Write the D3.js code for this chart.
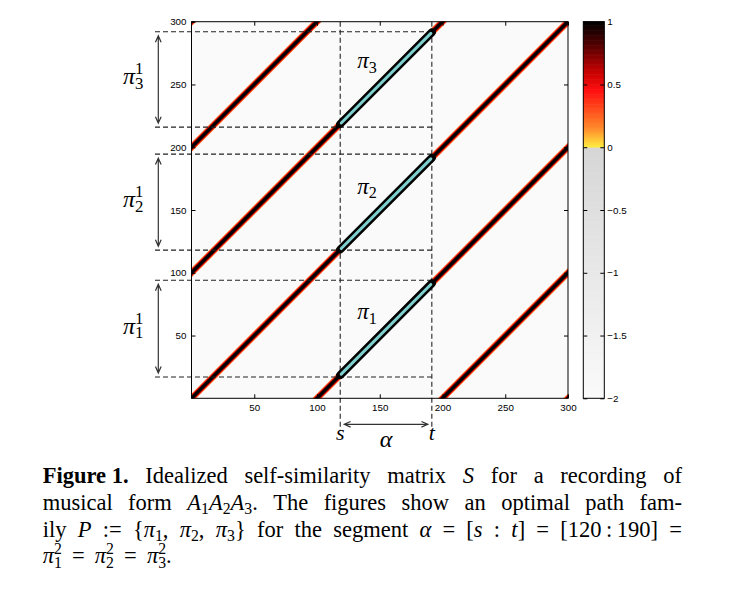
<!DOCTYPE html>
<html>
<head>
<meta charset="utf-8">
<script src="https://cdn.jsdelivr.net/npm/d3@7"></script>
<style>
  body { margin: 0; background: #fff; }
  svg { display: block; }
</style>
</head>
<body>
<div class="canvas"></div>
<script>
///////////////////////////////////////////////
////////// values /////////
///////////////////////////////////////////////
const axisTicks = [50, 100, 150, 200, 250, 300];
// the matrix has stripes along y = x + offset (blocks of 100 frames)
const blockOffsets = [-300, -200, -100, 0, 100, 200, 300];
// segment alpha = [s : t]
const segStart = 118.5;
const segEnd = 191.5;
// pi1, pi2, pi3 sit on these diagonals
const pathOffsets = [-100, 0, 100];
const pathNames = ['1', '2', '3'];
// projections of each path on the vertical axis (dashed lines)
const projLow = [17, 118, 216];
const projHigh = [94, 194.5, 292];
// colorbar
const cbTicks = [1, 0.5, 0, -0.5, -1, -1.5, -2];
const cbTickLabels = ['1', '0.5', '0', '\u22120.5', '\u22121', '\u22121.5', '\u22122'];
// caption, ** bold, _ italic, ~ subscript, ^ superscript
const captionLines = [
    '**Figure\u00a01.** Idealized self-similarity matrix _S_ for a recording of',
    'musical form _A_~1~_A_~2~_A_~3~. The figures show an optimal path fam-',
    'ily _P_ := {_\u03c0_~1~, _\u03c0_~2~, _\u03c0_~3~} for the segment _\u03b1_ = [_s_ : _t_] = [120\u2009:\u2009190] =',
    '_\u03c0_~1~^2^ = _\u03c0_~2~^2^ = _\u03c0_~3~^2^.'
];

// layout
const W = 729, H = 603;
const box = { left: 191.5, top: 21.7, right: 568, bottom: 398.3 };
const cb = { left: 583.3, right: 604.3 };

const svg = d3.select('.canvas')
    .append('svg')
    .attr('width', W)
    .attr('height', H)
    .attr('font-family', '"Liberation Serif", "Times New Roman", serif');

const x = d3.scaleLinear().domain([0, 300]).range([box.left, box.right]);
const y = d3.scaleLinear().domain([0, 300]).range([box.bottom, box.top]);

// colour map: grey for the penalty part, reversed "hot" for the positive part
const hot = d3.scaleLinear()
    .domain([0, 0.15, 0.45, 0.6, 0.8, 1])
    .range(['#ffee40', '#ff8a2a', '#ff1010', '#c80000', '#5a0000', '#000000']);
const grey = d3.scaleLinear().domain([-2, 0]).range(['#fafafa', '#d6d6d6']);
const cmap = v => v >= 0 ? hot(v) : grey(v);

/////////////////////////////////////////////
//////////////// the matrix /////////////////
/////////////////////////////////////////////
svg.append('clipPath').attr('id', 'plotClip')
    .append('rect')
    .attr('x', box.left).attr('y', box.top)
    .attr('width', box.right - box.left).attr('height', box.bottom - box.top);

svg.append('rect')
    .attr('x', box.left).attr('y', box.top)
    .attr('width', box.right - box.left).attr('height', box.bottom - box.top)
    .attr('fill', cmap(-2));

const stripes = svg.append('g').attr('clip-path', 'url(#plotClip)');
// each stripe is a stack of lines, wide + light to narrow + dark
const stripeLayers = [
    { v: 0.2, w: 6.6 },
    { v: 0.45, w: 5.4 },
    { v: 0.75, w: 4.1 },
    { v: 1, w: 2.9 }
];
stripeLayers.forEach(layer => {
    stripes.selectAll(null)
        .data(blockOffsets)
        .enter().append('line')
        .attr('x1', d => x(-20)).attr('y1', d => y(-20 + d))
        .attr('x2', d => x(320)).attr('y2', d => y(320 + d))
        .attr('stroke', cmap(layer.v))
        .attr('stroke-width', layer.w);
});

// dashed guides
const dash = svg.append('g')
    .attr('stroke', '#222')
    .attr('stroke-width', 1.1)
    .attr('stroke-dasharray', '5,3')
    .attr('fill', 'none');

dash.selectAll('.h')
    .data(projLow.concat(projHigh))
    .enter().append('line')
    .attr('x1', 155).attr('x2', x(segEnd))
    .attr('y1', d => y(d)).attr('y2', d => y(d));

dash.selectAll('.v')
    .data([segStart, segEnd])
    .enter().append('line')
    .attr('x1', d => x(d)).attr('x2', d => x(d))
    .attr('y1', y(300)).attr('y2', 431);

// the path family, black outline with a cyan core
const paths = svg.append('g').attr('stroke-linecap', 'round');
paths.selectAll('.outer')
    .data(pathOffsets)
    .enter().append('line')
    .attr('x1', x(segStart)).attr('y1', d => y(segStart + d))
    .attr('x2', x(segEnd)).attr('y2', d => y(segEnd + d))
    .attr('stroke', '#000').attr('stroke-width', 8);
paths.selectAll('.inner')
    .data(pathOffsets)
    .enter().append('line')
    .attr('x1', x(segStart) + 1).attr('y1', d => y(segStart + d) - 1)
    .attr('x2', x(segEnd) - 1).attr('y2', d => y(segEnd + d) + 1)
    .attr('stroke', '#7fcfcf').attr('stroke-width', 3);

/////////////////////////////////////////////
/////////////////// axes ////////////////////
/////////////////////////////////////////////
const tickFont = '"Liberation Sans", Arial, sans-serif';
const styleAxis = g => {
    g.select('.domain').remove();
    g.selectAll('line').attr('stroke', '#000');
    g.selectAll('text').attr('font-family', tickFont).attr('font-size', 9.8).attr('fill', '#000');
};

svg.append('g')
    .attr('transform', `translate(0, ${box.bottom})`)
    .call(d3.axisBottom(x).tickValues(axisTicks).tickSizeInner(-4).tickSizeOuter(0).tickPadding(6))
    .call(styleAxis);
svg.append('g')
    .attr('transform', `translate(${box.left}, 0)`)
    .call(d3.axisLeft(y).tickValues(axisTicks).tickSizeInner(-4).tickSizeOuter(0).tickPadding(5))
    .call(styleAxis);
svg.append('g')
    .attr('transform', `translate(0, ${box.top})`)
    .call(d3.axisTop(x).tickValues(axisTicks).tickSizeInner(-4).tickSizeOuter(0).tickFormat(''))
    .call(styleAxis);
svg.append('g')
    .attr('transform', `translate(${box.right}, 0)`)
    .call(d3.axisRight(y).tickValues(axisTicks).tickSizeInner(-4).tickSizeOuter(0).tickFormat(''))
    .call(styleAxis);

svg.append('rect')
    .attr('x', box.left).attr('y', box.top)
    .attr('width', box.right - box.left).attr('height', box.bottom - box.top)
    .attr('fill', 'none').attr('stroke', '#000').attr('stroke-width', 1);

/////////////////////////////////////////////
///////////////// colorbar //////////////////
/////////////////////////////////////////////
const cy = d3.scaleLinear().domain([-2, 1]).range([box.bottom, box.top]);
const cbStep = 0.01;
svg.append('g').selectAll('rect')
    .data(d3.range(-2, 1, cbStep))
    .enter().append('rect')
    .attr('x', cb.left).attr('width', cb.right - cb.left)
    .attr('y', d => cy(d + cbStep) - 0.3)
    .attr('height', d => cy(d) - cy(d + cbStep) + 0.6)
    .attr('fill', d => cmap(d + cbStep / 2));

svg.append('g')
    .attr('transform', `translate(${cb.right}, 0)`)
    .call(d3.axisRight(cy).tickValues(cbTicks).tickSizeInner(-4).tickSizeOuter(0).tickPadding(3)
        .tickFormat((d, i) => cbTickLabels[i]))
    .call(styleAxis);
svg.append('g')
    .attr('transform', `translate(${cb.left}, 0)`)
    .call(d3.axisLeft(cy).tickValues(cbTicks).tickSizeInner(-4).tickSizeOuter(0).tickFormat(''))
    .call(styleAxis);
svg.append('rect')
    .attr('x', cb.left).attr('y', box.top)
    .attr('width', cb.right - cb.left).attr('height', box.bottom - box.top)
    .attr('fill', 'none').attr('stroke', '#000').attr('stroke-width', 1);

/////////////////////////////////////////////
/////////// rich text (sub / sup) ///////////
/////////////////////////////////////////////
function parseRuns(word) {
    const re = /\*\*(.+?)\*\*|_(.+?)_|~(.+?)~|\^(.+?)\^|([^*_~^]+)/g;
    const runs = [];
    let m;
    while ((m = re.exec(word))) {
        if (m[1]) runs.push({ t: m[1], bold: true });
        else if (m[2]) runs.push({ t: m[2], italic: true });
        else if (m[3]) runs.push({ t: m[3], sub: true });
        else if (m[4]) runs.push({ t: m[4], sup: true });
        else runs.push({ t: m[5] });
    }
    return runs;
}

// draws one word as a single <text> at (0, 0) inside g, gives back its width
function drawWord(g, word, size) {
    const txt = g.append('text').attr('font-size', size);
    let cx = 0, subStart = null;
    parseRuns(word).forEach(r => {
        let fs = size, dy = 0, xx = cx;
        if (r.sub) { fs = size * 0.7; dy = size * 0.2; subStart = cx; }
        if (r.sup) {
            fs = size * 0.7;
            dy = subStart !== null ? -size * 0.42 : -size * 0.36;
            if (subStart !== null) xx = subStart;
        }
        const ts = txt.append('tspan')
            .attr('x', xx).attr('y', dy)
            .attr('font-size', fs)
            .attr('font-weight', r.bold ? 'bold' : null)
            .attr('font-style', r.italic ? 'italic' : null)
            .text(r.t);
        const w = ts.node().getComputedTextLength();
        if (r.sup && subStart !== null) { cx = Math.max(cx, xx + w); subStart = null; }
        else { cx = xx + w; if (!r.sub) subStart = null; }
    });
    return cx;
}

// pi labels in the plot
const labelAt = [132, 163];   // position relative to each path's diagonal
pathOffsets.forEach((off, i) => {
    const g = svg.append('g')
        .attr('transform', `translate(${x(labelAt[0])}, ${y(labelAt[1] + off)})`);
    drawWord(g, `_\u03c0_~${pathNames[i]}~`, 23);
});

// projections pi_k^1 on the left with double arrows
function doubleArrow(x1, y1, x2, y2) {
    const a = Math.atan2(y2 - y1, x2 - x1), L = 7, s = 0.42;
    const head = (px, py, ang) =>
        `M${px + L * Math.cos(ang + s)},${py + L * Math.sin(ang + s)}L${px},${py}` +
        `L${px + L * Math.cos(ang - s)},${py + L * Math.sin(ang - s)}`;
    svg.append('path')
        .attr('d', `M${x1},${y1}L${x2},${y2}` + head(x1, y1, a) + head(x2, y2, a + Math.PI))
        .attr('fill', 'none').attr('stroke', '#333').attr('stroke-width', 1.2);
}

projLow.forEach((lo, i) => {
    const top = y(projHigh[i]), bot = y(lo);
    doubleArrow(158.3, top + 4, 158.3, bot - 4);
    const g = svg.append('g').attr('transform', `translate(123, ${(top + bot) / 2 + 5})`);
    drawWord(g, `_\u03c0_~${pathNames[i]}~^1^`, 24);
});

// s, t and alpha under the axis
doubleArrow(x(segStart) + 4, 424.3, x(segEnd) - 4, 424.3);
[['_s_', segStart], ['_t_', segEnd]].forEach(([lab, v]) => {
    const g = svg.append('g');
    const w = drawWord(g, lab, 22);
    g.attr('transform', `translate(${x(v) - w / 2}, 440)`);
});
{
    const g = svg.append('g');
    const w = drawWord(g, '_\u03b1_', 24);
    g.attr('transform', `translate(${x((segStart + segEnd) / 2) - w / 2}, 447)`);
}

/////////////////////////////////////////////
////////////////// caption //////////////////
/////////////////////////////////////////////
const capLeft = 42.7, capRight = 682, capTop = 483.3, capLead = 26.6, capSize = 22.5;
captionLines.forEach((line, li) => {
    const words = line.split(' ');
    const items = words.map(wd => {
        const g = svg.append('g');
        return { g, w: drawWord(g, wd, capSize) };
    });
    const total = d3.sum(items, d => d.w);
    const justify = li < captionLines.length - 1;
    const gap = justify ? (capRight - capLeft - total) / (items.length - 1) : capSize * 0.45;
    let cx = capLeft;
    items.forEach(it => {
        it.g.attr('transform', `translate(${cx}, ${capTop + li * capLead})`);
        cx += it.w + gap;
    });
});
</script>
</body>
</html>
